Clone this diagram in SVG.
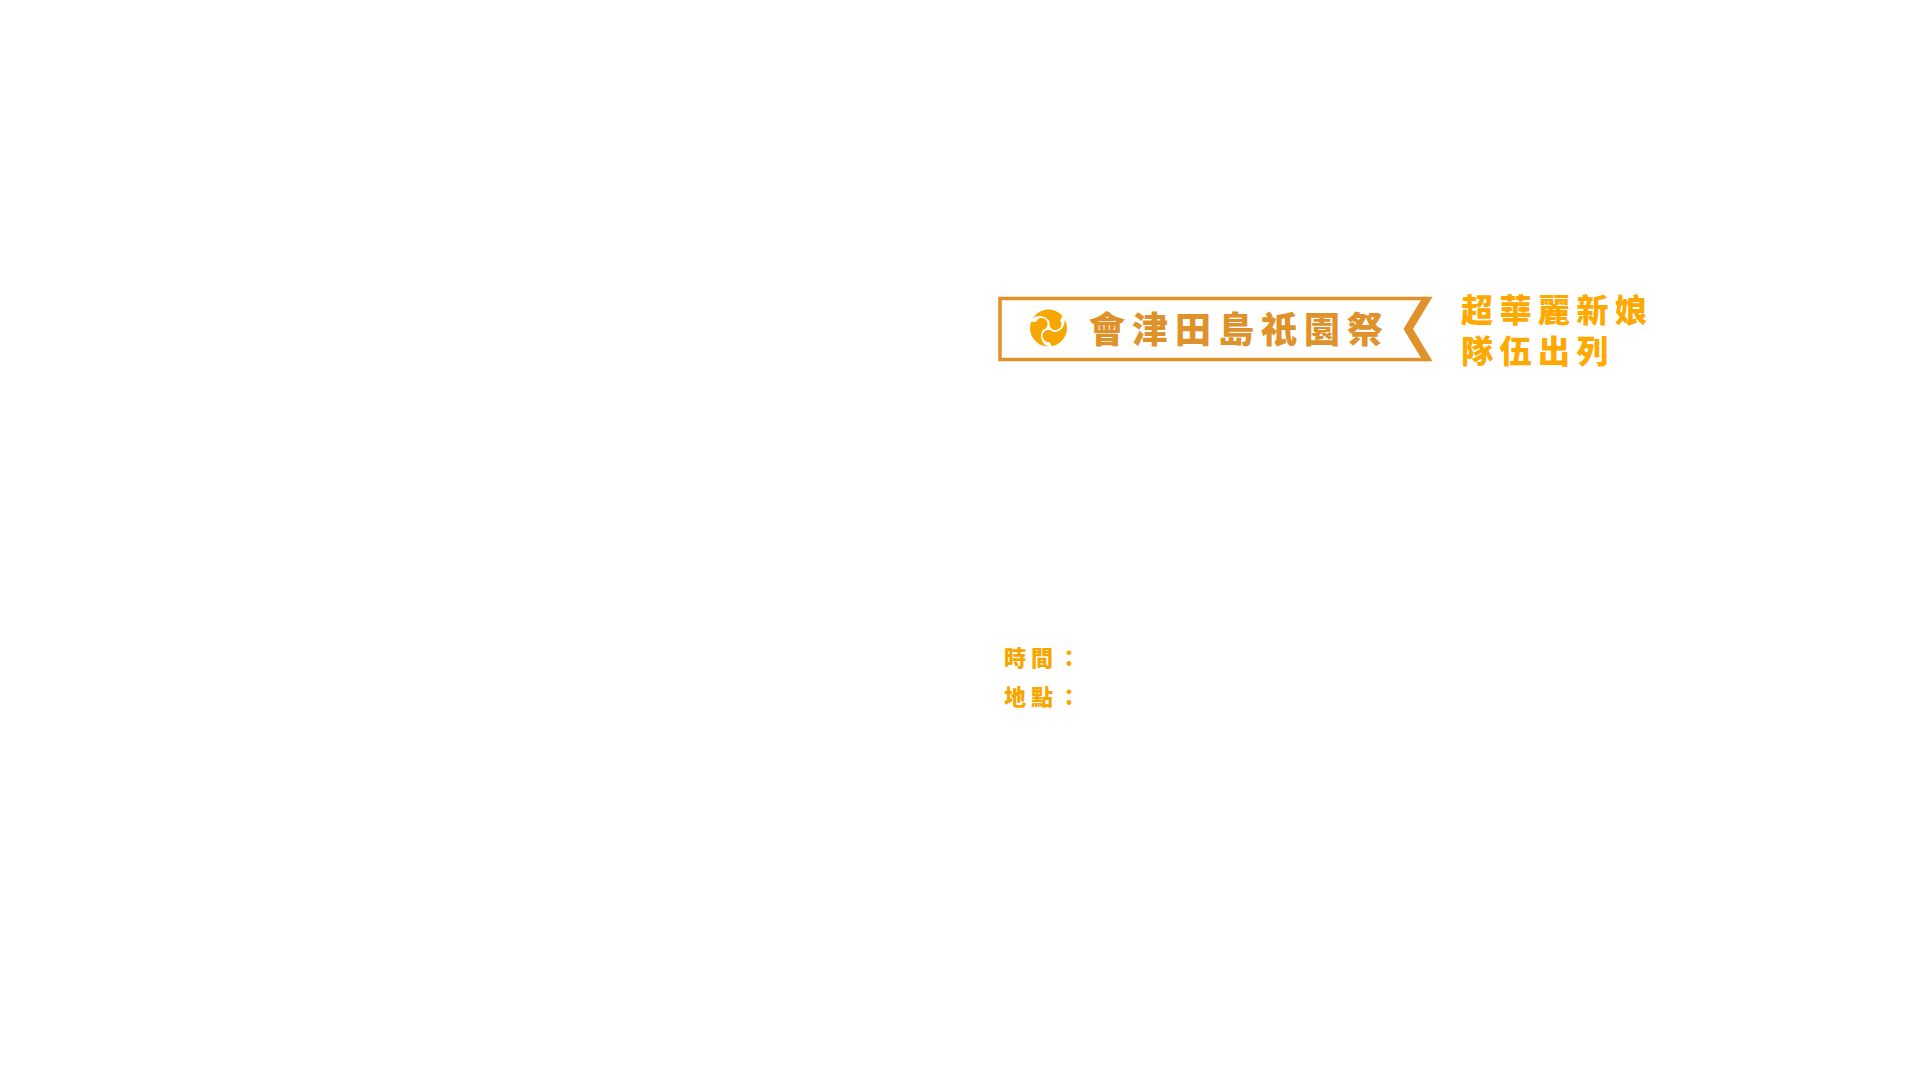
<svg xmlns="http://www.w3.org/2000/svg" width="1920" height="1069" viewBox="0 0 1920 1069">
<defs>
<path id="tomoe" d="M-3.21 -18.22 A18.5 18.5 0 0 0 -16.02 9.25 A11 11 0 0 1 -4.5 -4 A6 6 0 1 0 -1.04 -13.9 Z"/>
</defs>
<style>
.cjk{font-family:"Noto Sans CJK TC","Noto Sans CJK SC",sans-serif;font-weight:900}
.title{font-size:36px;fill:#DF912A;letter-spacing:7px}
.sub{font-size:32px;fill:#FFA800;letter-spacing:6.5px}
.lbl{font-size:22px;fill:#F7A600;letter-spacing:5px}
</style>
<rect x="0" y="0" width="1920" height="1069" fill="#FFFFFF"/>
<g id="banner">
<path d="M1427 298.5 H1000 V359.5 H1427" fill="none" stroke="#DF912A" stroke-width="3.5"/>
<polygon points="1423,296.8 1432.5,296.8 1413,329 1432.5,361.2 1423,361.2 1403.5,329" fill="#DF912A"/>
</g>
<g id="logo" transform="translate(1048.5 328)" fill="#F8A600">
<use href="#tomoe" transform="rotate(60)"/>
<use href="#tomoe" transform="rotate(180)"/>
<use href="#tomoe" transform="rotate(300)"/>
</g>
<g id="title">
<text class="cjk title" x="1089" y="343">會津田島祇園祭</text>
</g>
<g id="subtitle">
<text class="cjk sub"><tspan x="1461" y="322">超華麗新娘</tspan><tspan x="1461" y="363">隊伍出列</tspan></text>
</g>
<g id="labels">
<text class="cjk lbl" x="1004" y="666">時間：</text>
<text class="cjk lbl" x="1004" y="705">地點：</text>
</g>
<g id="connectors"/>
</svg>
